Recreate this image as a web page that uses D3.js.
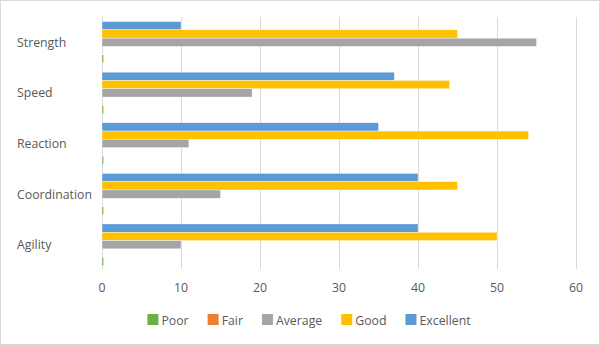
<!DOCTYPE html>
<html><head><meta charset="utf-8">
<script src="https://cdn.jsdelivr.net/npm/d3@7"></script>
<style>body{margin:0;background:#fff}svg{display:block;font-family:"Open Sans",sans-serif}</style>
</head><body><svg id="c" width="600" height="345"></svg>
<script>
const categories = ["Strength","Speed","Reaction","Coordination","Agility"];
const seriesNames = ["Excellent","Good","Average","Fair","Poor"];
const legendOrder = ["Poor","Fair","Average","Good","Excellent"];
const excellent = [10,37,35,40,40];
const good = [45,44,54,45,50];
const average = [55,19,11,15,10];
const fair = [0,0,0,0,0];
const poor = [0.2,0.2,0.2,0.2,0.2];
const xTicks = [0,10,20,30,40,50,60];
const colors = {Excellent:"#5B9BD5",Good:"#FFC000",Average:"#A5A5A5",Fair:"#ED7D31",Poor:"#70AD47"};
const valuesBySeries = {Excellent:excellent,Good:good,Average:average,Fair:fair,Poor:poor};

const svg = d3.select("#c");
svg.append("rect").attr("x",0.5).attr("y",0.5).attr("width",599).attr("height",344)
  .attr("fill","#fff").attr("stroke","#D9D9D9");

const x = d3.scaleLinear().domain([0,60]).range([102,576]);
const y0 = d3.scaleBand().domain(categories).range([17,270]).paddingInner(0.18).paddingOuter(0.09);
const y1 = d3.scaleBand().domain(seriesNames).range([0,y0.bandwidth()]);

// gridlines
svg.append("g").selectAll("line").data(xTicks).join("line")
  .attr("x1",d=>x(d)).attr("x2",d=>x(d)).attr("y1",17).attr("y2",269)
  .attr("stroke","#D9D9D9").attr("stroke-width",1).attr("shape-rendering","crispEdges");

// bars
const g = svg.append("g");
categories.forEach((c,i)=>{
  seriesNames.forEach(s=>{
    const v = valuesBySeries[s][i];
    if (v<=0) return;
    g.append("rect").attr("x",x(0)).attr("y",y0(c)+y1(s))
      .attr("width",x(v)-x(0)).attr("height",y1.bandwidth())
      .attr("fill",colors[s]).attr("stroke","#fff").attr("stroke-width",0.4);
  });
});

// x tick labels
svg.append("g").selectAll("text").data(xTicks).join("text")
  .attr("x",d=>x(d)).attr("y",292).attr("text-anchor","middle")
  .attr("font-size",12.3).attr("fill","#595959").text(d=>d);

// category labels
svg.append("g").selectAll("text").data(categories).join("text")
  .attr("x",17).attr("y",d=>y0(d)+y0.bandwidth()/2+4.5)
  .attr("font-size",12.3).attr("fill","#595959").text(d=>d);

// legend
const lg = svg.append("g");
let cx = 0;
legendOrder.forEach(s=>{
  const it = lg.append("g").attr("transform",`translate(${cx},0)`);
  it.append("rect").attr("x",0).attr("y",-6).attr("width",11).attr("height",11).attr("fill",colors[s]);
  const t = it.append("text").attr("x",14).attr("y",4.5).attr("font-size",12.3).attr("fill","#595959").text(s);
  const w = 14 + t.node().getComputedTextLength();
  cx += w + 19;
});
const total = cx - 19;
lg.attr("transform",`translate(${309 - total/2},320)`);
</script></body></html>
